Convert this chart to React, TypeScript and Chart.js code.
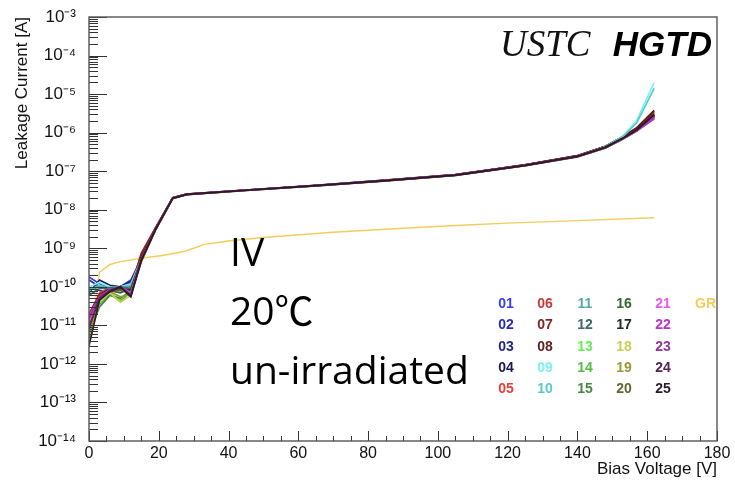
import React, { useEffect, useRef } from "react";
import { Chart, registerables } from "chart.js";

Chart.register(...registerables);

// ---------------- data ----------------
const VOLTAGE = [0, 3, 6, 9, 12, 15, 19, 24, 28, 45, 65, 85, 105, 125, 140, 148, 153, 157, 162];

const I_01 = [1.8e-10, 1.2e-10, 9.0e-11, 1.0e-10, 1.5e-10, 5.5e-10, 3.2e-9, 2.0e-8, 2.5e-8, 3.2e-8, 4.2e-8, 5.8e-8, 8.0e-8, 1.44e-7, 2.42e-7, 4.15e-7, 7.1e-7, 1.18e-6, 2.7e-6];
const I_02 = [1.5e-10, 1.0e-10, 8.0e-11, 9.5e-11, 1.3e-10, 5.0e-10, 3.0e-9, 2.0e-8, 2.5e-8, 3.2e-8, 4.2e-8, 5.7e-8, 7.9e-8, 1.42e-7, 2.4e-7, 4.1e-7, 7.0e-7, 1.15e-6, 2.6e-6];
const I_03 = [1.0e-10, 8.0e-11, 7.0e-11, 1.0e-10, 1.4e-10, 5.2e-10, 3.1e-9, 2.0e-8, 2.5e-8, 3.2e-8, 4.2e-8, 5.7e-8, 7.9e-8, 1.41e-7, 2.38e-7, 4.0e-7, 6.8e-7, 1.12e-6, 2.5e-6];
const I_04 = [7.0e-11, 1.5e-10, 1.1e-10, 1.0e-10, 1.2e-10, 4.8e-10, 3.0e-9, 2.0e-8, 2.5e-8, 3.2e-8, 4.2e-8, 5.7e-8, 7.9e-8, 1.42e-7, 2.4e-7, 4.1e-7, 7.0e-7, 1.16e-6, 2.7e-6];
const I_05 = [1.2e-11, 7.0e-11, 9.0e-11, 1.0e-10, 1.1e-10, 6.5e-10, 3.2e-9, 2.05e-8, 2.55e-8, 3.25e-8, 4.25e-8, 5.8e-8, 8.0e-8, 1.45e-7, 2.48e-7, 4.3e-7, 7.5e-7, 1.25e-6, 3.2e-6];
const I_06 = [8.0e-12, 6.0e-11, 8.5e-11, 1.0e-10, 1.0e-10, 7.0e-10, 3.3e-9, 2.05e-8, 2.55e-8, 3.25e-8, 4.25e-8, 5.8e-8, 8.0e-8, 1.46e-7, 2.5e-7, 4.35e-7, 7.6e-7, 1.28e-6, 3.4e-6];
const I_07 = [2.0e-11, 6.5e-11, 9.0e-11, 1.0e-10, 9.0e-11, 7.5e-10, 3.3e-9, 2.05e-8, 2.55e-8, 3.25e-8, 4.3e-8, 5.85e-8, 8.1e-8, 1.47e-7, 2.52e-7, 4.4e-7, 7.8e-7, 1.32e-6, 3.6e-6];
const I_08 = [5.0e-12, 5.0e-11, 8.0e-11, 1.0e-10, 8.0e-11, 6.0e-10, 3.1e-9, 2.05e-8, 2.55e-8, 3.25e-8, 4.3e-8, 5.85e-8, 8.1e-8, 1.47e-7, 2.53e-7, 4.45e-7, 7.9e-7, 1.35e-6, 3.8e-6];
const I_09 = [1.0e-10, 1.3e-10, 1.0e-10, 1.0e-10, 1.2e-10, 5.0e-10, 3.0e-9, 2.0e-8, 2.5e-8, 3.2e-8, 4.2e-8, 5.7e-8, 7.9e-8, 1.42e-7, 2.42e-7, 4.3e-7, 8.0e-7, 2.1e-6, 2.0e-5];
const I_10 = [8.0e-11, 1.1e-10, 9.0e-11, 1.0e-10, 1.1e-10, 5.0e-10, 3.0e-9, 2.0e-8, 2.5e-8, 3.2e-8, 4.2e-8, 5.7e-8, 7.9e-8, 1.42e-7, 2.42e-7, 4.25e-7, 7.8e-7, 1.8e-6, 1.4e-5];
const I_11 = [9.0e-11, 1.0e-10, 9.0e-11, 9.0e-11, 1.0e-10, 5.0e-10, 3.0e-9, 2.0e-8, 2.5e-8, 3.2e-8, 4.2e-8, 5.7e-8, 7.9e-8, 1.42e-7, 2.4e-7, 4.1e-7, 7.0e-7, 1.15e-6, 2.6e-6];
const I_12 = [6.0e-11, 9.0e-11, 9.5e-11, 1.0e-10, 9.0e-11, 4.8e-10, 2.9e-9, 2.0e-8, 2.5e-8, 3.2e-8, 4.2e-8, 5.7e-8, 7.9e-8, 1.41e-7, 2.38e-7, 4.05e-7, 6.9e-7, 1.13e-6, 2.5e-6];
const I_13 = [1.5e-11, 4.0e-11, 7.0e-11, 4.5e-11, 7.0e-11, 4.5e-10, 2.9e-9, 1.95e-8, 2.45e-8, 3.15e-8, 4.15e-8, 5.6e-8, 7.8e-8, 1.4e-7, 2.36e-7, 4.0e-7, 6.8e-7, 1.1e-6, 2.4e-6];
const I_14 = [1.0e-11, 3.5e-11, 6.5e-11, 4.2e-11, 7.5e-11, 4.5e-10, 2.9e-9, 1.95e-8, 2.45e-8, 3.15e-8, 4.15e-8, 5.6e-8, 7.8e-8, 1.4e-7, 2.36e-7, 4.0e-7, 6.8e-7, 1.1e-6, 2.4e-6];
const I_15 = [6.0e-12, 3.0e-11, 6.0e-11, 5.0e-11, 8.0e-11, 4.8e-10, 3.0e-9, 1.95e-8, 2.45e-8, 3.15e-8, 4.15e-8, 5.6e-8, 7.8e-8, 1.4e-7, 2.37e-7, 4.0e-7, 6.8e-7, 1.12e-6, 2.5e-6];
const I_16 = [1.0e-11, 5.0e-11, 8.0e-11, 7.0e-11, 9.0e-11, 5.0e-10, 3.0e-9, 2.0e-8, 2.5e-8, 3.2e-8, 4.2e-8, 5.7e-8, 7.9e-8, 1.42e-7, 2.4e-7, 4.1e-7, 7.0e-7, 1.15e-6, 2.7e-6];
const I_17 = [8.0e-12, 5.5e-11, 8.5e-11, 9.0e-11, 8.0e-11, 5.0e-10, 3.0e-9, 2.0e-8, 2.5e-8, 3.2e-8, 4.2e-8, 5.7e-8, 7.9e-8, 1.42e-7, 2.41e-7, 4.15e-7, 7.1e-7, 1.18e-6, 2.9e-6];
const I_18 = [4.0e-12, 4.0e-11, 7.0e-11, 4.0e-11, 6.0e-11, 4.5e-10, 2.9e-9, 1.95e-8, 2.45e-8, 3.15e-8, 4.15e-8, 5.6e-8, 7.8e-8, 1.4e-7, 2.36e-7, 4.0e-7, 6.8e-7, 1.1e-6, 2.4e-6];
const I_19 = [6.0e-12, 4.5e-11, 7.5e-11, 5.5e-11, 6.5e-11, 4.6e-10, 2.9e-9, 1.95e-8, 2.45e-8, 3.15e-8, 4.15e-8, 5.6e-8, 7.8e-8, 1.4e-7, 2.37e-7, 4.02e-7, 6.85e-7, 1.12e-6, 2.5e-6];
const I_20 = [1.0e-11, 5.0e-11, 8.0e-11, 8.0e-11, 7.0e-11, 4.8e-10, 3.0e-9, 2.0e-8, 2.5e-8, 3.2e-8, 4.2e-8, 5.7e-8, 7.9e-8, 1.42e-7, 2.4e-7, 4.1e-7, 7.0e-7, 1.16e-6, 2.8e-6];
const I_21 = [1.2e-11, 5.0e-11, 8.0e-11, 1.0e-10, 7.0e-11, 5.0e-10, 3.1e-9, 2.0e-8, 2.5e-8, 3.2e-8, 4.2e-8, 5.7e-8, 7.9e-8, 1.41e-7, 2.38e-7, 4.05e-7, 6.9e-7, 1.12e-6, 2.3e-6];
const I_22 = [1.8e-11, 5.5e-11, 8.5e-11, 1.0e-10, 6.5e-11, 5.2e-10, 3.1e-9, 2.0e-8, 2.5e-8, 3.2e-8, 4.2e-8, 5.7e-8, 7.9e-8, 1.41e-7, 2.38e-7, 4.05e-7, 6.9e-7, 1.12e-6, 2.3e-6];
const I_23 = [1.5e-11, 5.5e-11, 8.0e-11, 1.0e-10, 6.0e-11, 5.0e-10, 3.1e-9, 2.0e-8, 2.5e-8, 3.2e-8, 4.2e-8, 5.7e-8, 7.9e-8, 1.42e-7, 2.4e-7, 4.1e-7, 7.0e-7, 1.15e-6, 2.6e-6];
const I_24 = [9.0e-12, 5.0e-11, 8.0e-11, 1.0e-10, 6.0e-11, 5.0e-10, 3.0e-9, 2.0e-8, 2.5e-8, 3.2e-8, 4.2e-8, 5.7e-8, 7.9e-8, 1.42e-7, 2.41e-7, 4.12e-7, 7.05e-7, 1.17e-6, 2.9e-6];
const I_25 = [3.0e-12, 4.5e-11, 7.5e-11, 1.0e-10, 5.5e-11, 4.8e-10, 3.0e-9, 2.0e-8, 2.5e-8, 3.2e-8, 4.2e-8, 5.7e-8, 7.9e-8, 1.42e-7, 2.42e-7, 4.15e-7, 7.1e-7, 1.18e-6, 3.0e-6];

const PAD_CURRENTS = [
  I_01, I_02, I_03, I_04, I_05, I_06, I_07, I_08, I_09, I_10,
  I_11, I_12, I_13, I_14, I_15, I_16, I_17, I_18, I_19, I_20,
  I_21, I_22, I_23, I_24, I_25,
];

const PAD_LABELS = [
  "01", "02", "03", "04", "05", "06", "07", "08", "09", "10",
  "11", "12", "13", "14", "15", "16", "17", "18", "19", "20",
  "21", "22", "23", "24", "25",
];

const PAD_COLORS = [
  "#3a3aee", "#2a2ab8", "#232388", "#1c1c52", "#ee3a3a",
  "#c83a3a", "#8a2424", "#5e1e1e", "#7ff0f0", "#5cc8c8",
  "#55a8a8", "#3a6a6a", "#66ee55", "#55bb44", "#448844",
  "#336633", "#222a22", "#cccc55", "#999933", "#666633",
  "#ee55ee", "#bb33cc", "#993399", "#552255", "#2a1a2a",
];

const GR_LABEL = "GR";
const GR_COLOR = "#f2cd5a";
const GR_VOLTAGE = [0, 3, 6, 9, 15, 21, 27, 30, 33, 40, 50, 70, 90, 105, 120, 140, 162];
const GR_CURRENT = [2.6e-12, 2.4e-10, 3.8e-10, 4.5e-10, 5.5e-10, 6.5e-10, 8.1e-10, 1.0e-9, 1.26e-9, 1.55e-9, 1.9e-9, 2.6e-9, 3.3e-9, 3.9e-9, 4.5e-9, 5.2e-9, 6.2e-9];

const Y_EXPONENTS = [-14, -13, -12, -11, -10, -9, -8, -7, -6, -5, -4, -3];
const X_MIN = 0;
const X_MAX = 180;
const X_MAJOR_STEP = 20;
const X_MINOR_STEP = 5;

const X_TITLE = "Bias Voltage [V]";
const Y_TITLE = "Leakage Current [A]";
const NOTE_LINES = ["IV", "20℃", "un-irradiated"];

// ---------------- helpers ----------------
const SUP: Record<string, string> = {
  "-": "⁻", "0": "⁰", "1": "¹", "2": "²", "3": "³", "4": "⁴",
  "5": "⁵", "6": "⁶", "7": "⁷", "8": "⁸", "9": "⁹",
};
const sup = (n: number) => String(n).split("").map((c) => SUP[c] ?? c).join("");

const W = 735;
const H = 481;

const rootFramePlugin = {
  id: "rootFrame",
  afterDatasetsDraw(chart: any) {
    const { ctx, chartArea, scales } = chart;
    const { left, top, right, bottom } = chartArea;
    const x = scales.x;
    const y = scales.y;
    ctx.save();
    ctx.strokeStyle = "#333";
    ctx.lineWidth = 1;
    ctx.beginPath();
    const e0 = Y_EXPONENTS[0];
    const e1 = Y_EXPONENTS[Y_EXPONENTS.length - 1];
    for (let e = e0; e <= e1; e++) {
      for (let m = 1; m <= 9; m++) {
        if (e === e1 && m > 1) break;
        const v = m * Math.pow(10, e);
        const py = Math.round(y.getPixelForValue(v)) + 0.5;
        const len = m === 1 ? 18 : 9;
        ctx.moveTo(left, py);
        ctx.lineTo(left + len, py);
      }
    }
    for (let v = X_MIN; v <= X_MAX; v += X_MINOR_STEP) {
      const px = Math.round(x.getPixelForValue(v)) + 0.5;
      const len = v % X_MAJOR_STEP === 0 ? 10 : 5;
      ctx.moveTo(px, bottom);
      ctx.lineTo(px, bottom - len);
    }
    ctx.stroke();
    ctx.strokeStyle = "#555";
    ctx.lineWidth = 1.4;
    ctx.strokeRect(left, top, right - left, bottom - top);
    ctx.restore();
  },
};

export default function App() {
  const canvasRef = useRef<HTMLCanvasElement | null>(null);

  useEffect(() => {
    const canvas = canvasRef.current;
    if (!canvas) return;

    const padSets = PAD_LABELS.map((label, i) => ({
      label,
      data: VOLTAGE.map((v, j) => ({ x: v, y: PAD_CURRENTS[i][j] })),
      borderColor: PAD_COLORS[i],
      backgroundColor: PAD_COLORS[i],
      borderWidth: 1.7,
      pointRadius: 0,
      tension: 0,
      fill: false,
      order: -i,
    }));
    const grSet = {
      label: GR_LABEL,
      data: GR_VOLTAGE.map((v, j) => ({ x: v, y: GR_CURRENT[j] })),
      borderColor: GR_COLOR,
      backgroundColor: GR_COLOR,
      borderWidth: 1.4,
      pointRadius: 0,
      tension: 0,
      fill: false,
      order: 1,
    };

    const tickFont = { family: "'Liberation Sans', Arial, sans-serif", size: 16 };
    const yTickFont = { family: "'Liberation Sans', Arial, sans-serif", size: 17 };
    const titleFont = { family: "'Liberation Sans', Arial, sans-serif", size: 17 };

    const chart = new Chart(canvas, {
      type: "line",
      data: { datasets: [grSet, ...padSets] as any },
      options: {
        responsive: false,
        animation: false,
        layout: { padding: { left: 0, top: 17, right: 18, bottom: 0 } },
        plugins: { legend: { display: false }, tooltip: { enabled: false } },
        scales: {
          x: {
            type: "linear",
            min: X_MIN,
            max: X_MAX,
            grid: { display: false },
            border: { display: false },
            ticks: {
              stepSize: X_MAJOR_STEP,
              color: "#111",
              font: tickFont,
              padding: -5,
              maxRotation: 0,
            },
            title: {
              display: true,
              text: X_TITLE,
              align: "end",
              color: "#111",
              font: titleFont,
              padding: { top: 0, bottom: 1 },
            },
            afterFit: (s: any) => {
              s.height = 40;
            },
          },
          y: {
            type: "logarithmic",
            min: Math.pow(10, Y_EXPONENTS[0]),
            max: Math.pow(10, Y_EXPONENTS[Y_EXPONENTS.length - 1]),
            grid: { display: false },
            border: { display: false },
            afterBuildTicks: (s: any) => {
              s.ticks = Y_EXPONENTS.map((e) => ({ value: Math.pow(10, e) }));
            },
            ticks: {
              autoSkip: false,
              color: "#111",
              font: yTickFont,
              padding: 5,
              callback: (v: any) => "10" + sup(Math.round(Math.log10(Number(v)))),
            },
            title: {
              display: true,
              text: Y_TITLE,
              align: "end",
              color: "#111",
              font: titleFont,
              padding: { top: 12, bottom: 0 },
            },
            afterFit: (s: any) => {
              s.width = 89;
            },
          },
        },
      },
      plugins: [rootFramePlugin],
    });

    return () => chart.destroy();
  }, []);

  // legend grid: 5 rows, columns of pads, GR in last column top row
  const colX = [506, 545, 585, 624, 663];
  const rowY = [303, 324, 346, 367, 388];

  return (
    <div style={{ position: "absolute", left: 0, top: 0, width: W, height: H, background: "#fff", overflow: "hidden" }}>
      <canvas ref={canvasRef} width={W} height={H} style={{ width: W, height: H, display: "block" }} />
      <div
        style={{
          position: "absolute", left: 500, top: 25, fontFamily: "'Liberation Serif', 'Times New Roman', serif",
          fontStyle: "italic", fontSize: 37, lineHeight: "37px", color: "#111", whiteSpace: "nowrap",
        }}
      >
        USTC
      </div>
      <div
        style={{
          position: "absolute", right: 23, top: 26, fontFamily: "'Liberation Sans', Arial, sans-serif",
          fontStyle: "italic", fontWeight: "bold", fontSize: 35, lineHeight: "35px", color: "#000", whiteSpace: "nowrap",
        }}
      >
        HGTD
      </div>
      <div
        style={{
          position: "absolute", left: 230, top: 221, fontFamily: "'Open Sans', 'Noto Sans CJK SC', sans-serif",
          fontSize: 39, lineHeight: "59px", color: "#000", whiteSpace: "nowrap",
        }}
      >
        {NOTE_LINES.map((t) => (
          <div key={t}>{t}</div>
        ))}
      </div>
      {PAD_LABELS.map((label, i) => (
        <div
          key={label}
          style={{
            position: "absolute", left: colX[Math.floor(i / 5)], top: rowY[i % 5], transform: "translate(-50%, -50%)",
            fontFamily: "'Liberation Sans', Arial, sans-serif", fontWeight: "bold", fontSize: 14, lineHeight: "14px",
            color: PAD_COLORS[i], whiteSpace: "nowrap",
          }}
        >
          {label}
        </div>
      ))}
      <div
        style={{
          position: "absolute", left: 695, top: rowY[0], transform: "translateY(-50%)",
          fontFamily: "'Liberation Sans', Arial, sans-serif", fontWeight: "bold", fontSize: 14, lineHeight: "14px",
          color: GR_COLOR, whiteSpace: "nowrap",
        }}
      >
        {GR_LABEL}
      </div>
    </div>
  );
}
